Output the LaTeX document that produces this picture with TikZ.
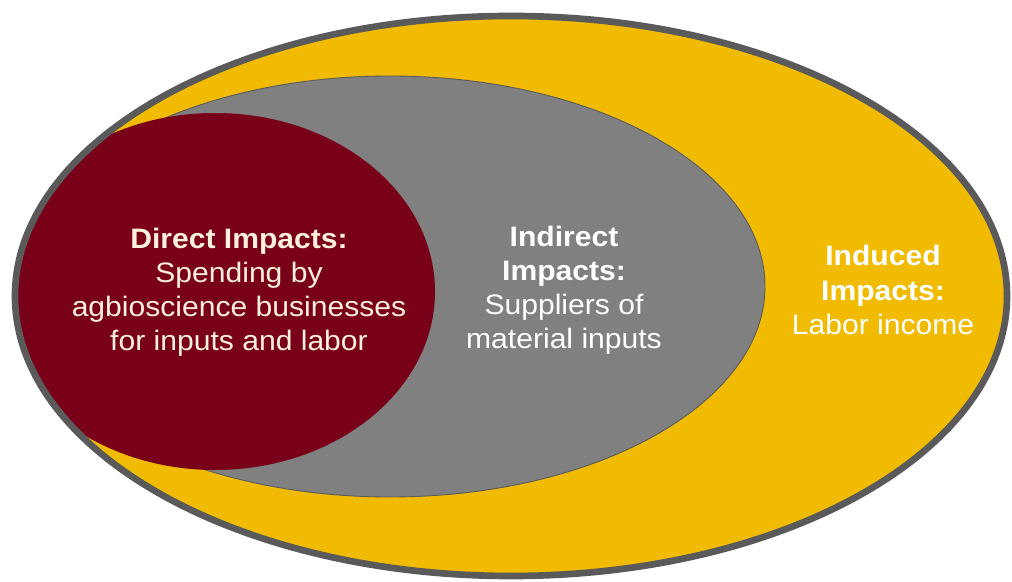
\documentclass[tikz,border=0pt]{standalone}
\usepackage{fontspec}
\setmainfont[FakeStretch=1.07]{Liberation Sans}
\definecolor{impgold}{RGB}{240, 187, 0}
\definecolor{impmaroon}{RGB}{120, 0, 25}
\definecolor{impgrey}{RGB}{128, 128, 128}
\definecolor{imprim}{RGB}{90, 90, 90}
\definecolor{impcream}{RGB}{255, 240, 220}
\usetikzlibrary{positioning}

\tikzset{
  impact/.style={align=center, font=\fontsize{16}{19.4}\selectfont, inner sep=0pt},
}

\begin{document}
\begin{tikzpicture}
  \useasboundingbox (0,0) rectangle (20.24,11.64);
  % nested rings
  \fill[impgold] (10.22,5.72) ellipse [x radius=9.92, y radius=5.60];
  \filldraw[fill=impgrey, draw=imprim, line width=0.5pt] (7.80,5.91) ellipse [x radius=7.50, y radius=4.21];
  \begin{scope}
    \clip (10.22,5.72) ellipse [x radius=9.92, y radius=5.60];
    \fill[impmaroon] (4.30,5.81) ellipse [x radius=4.40, y radius=3.57];
  \end{scope}
  \draw[imprim, line width=3.8pt] (10.22,5.72) ellipse [x radius=9.92, y radius=5.60];

  \node[impact, text=impcream] (direct) at (4.78,5.80) {\textbf{Direct Impacts:}\\Spending by\\agbioscience businesses\\for inputs and labor};
  \node[impact, text=white] (indirect) at (11.28,5.84) {\textbf{Indirect}\\\textbf{Impacts:}\\Suppliers of\\material inputs};
  \node[impact, text=white] (induced) at (17.66,5.84) {\textbf{Induced}\\\textbf{Impacts:}\\Labor income};
\end{tikzpicture}
\end{document}
